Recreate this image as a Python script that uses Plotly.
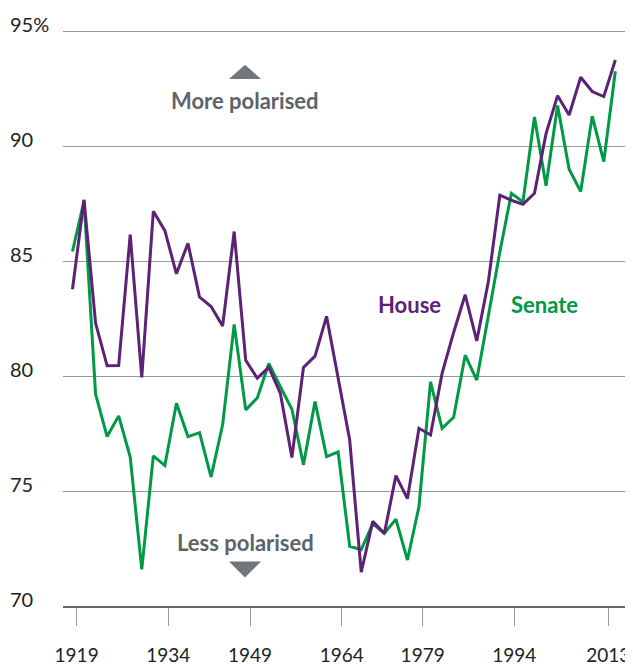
import plotly.graph_objects as go

# Data, one value per Congress, in order
house = [83.78, 87.67, 82.31, 80.45, 80.46, 86.16, 79.94, 87.17, 86.33, 84.45,
         85.78, 83.44, 83.03, 82.18, 86.29, 80.69, 79.91, 80.38, 79.25, 76.46,
         80.38, 80.87, 82.60, 79.83, 77.23, 71.47, 73.68, 73.15, 75.67, 74.67,
         77.73, 77.44, 80.12, 81.90, 83.54, 81.53, 84.09, 87.87, 87.65, 87.47,
         87.95, 90.55, 92.20, 91.36, 93.00, 92.38, 92.16, 93.75]
senate = [85.42, 87.63, 79.22, 77.37, 78.27, 76.48, 71.59, 76.53, 76.11, 78.82,
          77.37, 77.54, 75.61, 77.88, 82.25, 78.53, 79.05, 80.55, 79.54, 78.56,
          76.14, 78.89, 76.50, 76.70, 72.60, 72.45, 73.58, 73.16, 73.78, 72.00,
          74.33, 79.75, 77.73, 78.21, 80.91, 79.83, 82.60, 85.40, 87.95, 87.58,
          91.27, 88.28, 91.77, 89.00, 88.03, 91.31, 89.33, 93.26]
congress = list(range(len(house)))

tick_pos = [0.36, 8.29, 15.37, 23.31, 30.32, 38.25, 46.39]
tick_labels = ["1919", "1934", "1949", "1964", "1979", "1994", "2013"]
y_ticks = [70, 75, 80, 85, 90, 95]
y_labels = ["70", "75", "80", "85", "90", "95%"]

HOUSE_C = "#5b2275"
SENATE_C = "#009a47"
GREY_TXT = "#5c636a"
GREY_TRI = "#6f777d"
FONT = "Lato, Liberation Sans, sans-serif"

fig = go.Figure()
fig.add_trace(go.Scatter(x=congress, y=senate, mode="lines", name="Senate",
                         line=dict(color=SENATE_C, width=3)))
fig.add_trace(go.Scatter(x=congress, y=house, mode="lines", name="House",
                         line=dict(color=HOUSE_C, width=3)))

ann = []
for v, t in zip(y_ticks, y_labels):
    ann.append(dict(x=-0.0965, xref="paper", y=v, yref="y", text=t,
                    showarrow=False, xanchor="left", yanchor="middle", yshift=7,
                    font=dict(family=FONT, size=20, color="#222")))
ann += [
    dict(x=14.94, y=92.0, text="<b>More polarised</b>", showarrow=False,
         font=dict(family=FONT, size=22, color=GREY_TXT)),
    dict(x=14.94, y=72.76, text="<b>Less polarised</b>", showarrow=False,
         font=dict(family=FONT, size=22, color=GREY_TXT)),
    dict(x=29.2, y=83.12, text="<b>House</b>", showarrow=False,
         font=dict(family=FONT, size=22, color=HOUSE_C)),
    dict(x=40.9, y=83.12, text="<b>Senate</b>", showarrow=False,
         font=dict(family=FONT, size=22, color=SENATE_C)),
]

shapes = [
    dict(type="path", xref="x", yref="y", fillcolor=GREY_TRI, line=dict(width=0),
         path="M 13.55 92.92 L 16.33 92.92 L 14.94 93.55 Z"),
    dict(type="path", xref="x", yref="y", fillcolor=GREY_TRI, line=dict(width=0),
         path="M 13.55 71.94 L 16.33 71.94 L 14.94 71.24 Z"),
]

# the page body adds an 8px margin, so the figure is sized to fit 633x666
fig.update_layout(
    width=625, height=658,
    margin=dict(l=55, r=0, t=21, b=54),
    paper_bgcolor="white", plot_bgcolor="white",
    showlegend=False,
    annotations=ann, shapes=shapes,
    font=dict(family=FONT, color="#222"),
)
fig.update_xaxes(range=[-0.82, 48.53], tickmode="array", tickvals=tick_pos,
                 ticktext=tick_labels, showgrid=False, zeroline=False,
                 showline=True, linecolor="#666", linewidth=2,
                 ticks="outside", ticklen=18, tickwidth=1, tickcolor="#999",
                 ticklabelstandoff=13,
                 tickfont=dict(family=FONT, size=19, color="#222"))
fig.update_yaxes(range=[70, 95.1], tickmode="array", tickvals=y_ticks,
                 showticklabels=False, showgrid=True, gridcolor="#9a9a9a",
                 gridwidth=1, zeroline=False, showline=False, ticks="")

fig.write_html("out.html")
